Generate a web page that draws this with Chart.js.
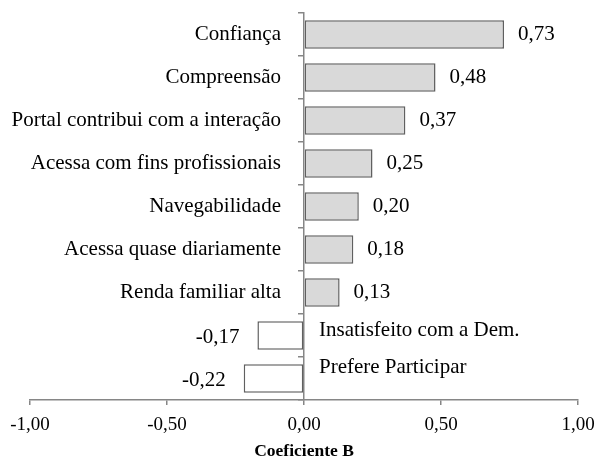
<!DOCTYPE html>
<html>
<head>
<meta charset="utf-8">
<script src="https://cdn.jsdelivr.net/npm/chart.js@4"></script>
<style>
  html, body { margin: 0; padding: 0; background: #ffffff; }
  #wrap { width: 595px; height: 459px; position: relative; }
</style>
</head>
<body>
<div id="wrap"><canvas id="c"></canvas></div>
<script>
const categories = [
  "Confiança",
  "Compreensão",
  "Portal contribui com a interação",
  "Acessa com fins profissionais",
  "Navegabilidade",
  "Acessa quase diariamente",
  "Renda familiar alta",
  "Insatisfeito com a Dem.",
  "Prefere Participar"
];
const coefficients = [0.73, 0.48, 0.37, 0.25, 0.20, 0.18, 0.13, -0.17, -0.22];
const xTicks = [-1, -0.5, 0, 0.5, 1];
const axisTitle = "Coeficiente B";

const FONT = "'Liberation Serif', 'Times New Roman', serif";
const fmt = v => v.toFixed(2).replace('.', ',');

const labelsPlugin = {
  id: 'labelsPlugin',
  afterDatasetsDraw(chart) {
    const ctx = chart.ctx;
    const meta = chart.getDatasetMeta(0);
    const xs = chart.scales.x;
    const zeroX = xs.getPixelForValue(0);
    ctx.save();
    ctx.font = "21px " + FONT;
    ctx.fillStyle = "#000000";
    ctx.textBaseline = "middle";
    let negIdx = 0;
    const negOffsets = [-5, -11];
    meta.data.forEach((bar, i) => {
      const v = coefficients[i];
      const y = bar.y;
      if (v >= 0) {
        ctx.textAlign = "left";
        ctx.fillText(fmt(v), bar.x + 14, y);
        ctx.textAlign = "right";
        ctx.fillText(categories[i], zeroX - 23, y);
      } else {
        ctx.textAlign = "right";
        ctx.fillText(fmt(v), bar.x - 18, y + 2);
        ctx.textAlign = "left";
        ctx.fillText(categories[i], zeroX + 15, y + (negOffsets[negIdx] || -8));
        negIdx++;
      }
    });
    ctx.restore();
  }
};

new Chart(document.getElementById('c'), {
  type: 'bar',
  data: {
    labels: categories,
    datasets: [{
      data: coefficients,
      backgroundColor: coefficients.map(v => v >= 0 ? '#d9d9d9' : '#ffffff'),
      borderColor: '#606060',
      borderWidth: 1.5,
      borderSkipped: false,
      categoryPercentage: 1,
      barPercentage: 0.66
    }]
  },
  options: {
    indexAxis: 'y',
    responsive: true,
    maintainAspectRatio: false,
    animation: false,
    layout: { padding: { top: 13, left: 30, right: 17, bottom: 0 } },
    plugins: {
      legend: { display: false },
      tooltip: { enabled: false }
    },
    scales: {
      x: {
        min: -1,
        max: 1,
        afterBuildTicks: s => { s.ticks = xTicks.map(v => ({ value: v })); },
        afterFit: s => { s.height = 59; s.paddingLeft = 0; s.paddingRight = 0; },
        border: { color: '#868686', width: 1.5 },
        grid: { drawOnChartArea: false, drawTicks: true, tickLength: 5, color: '#868686', lineWidth: 1.5 },
        ticks: {
          font: { family: FONT, size: 19 },
          color: '#000000',
          padding: 9,
          maxRotation: 0,
          callback: v => fmt(v)
        },
        title: {
          display: true,
          text: axisTitle,
          font: { family: FONT, size: 17.5, weight: 'bold' },
          color: '#000000',
          padding: { top: 3, bottom: -3 }
        }
      },
      y: {
        position: { x: 0 },
        offset: true,
        border: { color: '#868686', width: 1.5 },
        grid: { drawOnChartArea: false, drawTicks: true, tickLength: 5, color: '#868686', lineWidth: 1.5, offset: true },
        ticks: { display: false }
      }
    }
  },
  plugins: [labelsPlugin]
});
</script>
</body>
</html>
